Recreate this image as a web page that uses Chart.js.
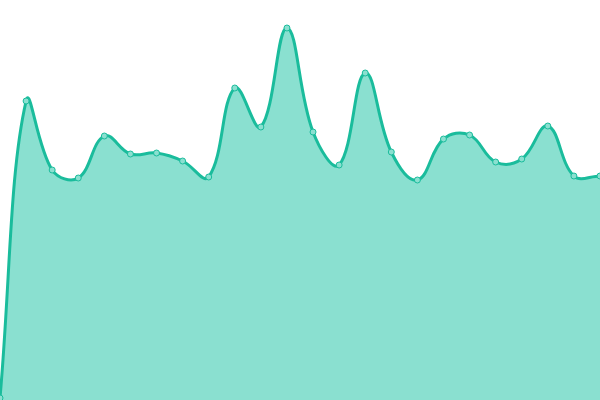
<!DOCTYPE html>
<html>
<head>
<meta charset="utf-8">
<script src="https://cdn.jsdelivr.net/npm/chart.js@4"></script>
<style>
  html, body { margin: 0; padding: 0; background: #fff; }
  #wrap { width: 600px; height: 400px; }
</style>
</head>
<body>
<div id="wrap"><canvas id="chart"></canvas></div>
<script>
// data (higher = taller)
const labels = ['1', '2', '3', '4', '5', '6', '7', '8', '9', '10', '11', '12',
                '13', '14', '15', '16', '17', '18', '19', '20', '21', '22', '23', '24'];
const values = [2, 299, 230, 222, 264, 246, 247, 239, 223, 312, 273, 372,
                268, 235, 327, 248, 220, 261, 265, 238, 241, 274, 224, 224];

const ctx = document.getElementById('chart').getContext('2d');
const chart = new Chart(ctx, {
    type: 'line',
    data: {
        labels: labels,
        datasets: [{
            data: values,
            fill: 'origin',
            backgroundColor: '#8ae0d0',
            borderColor: '#1abc9c',
            borderWidth: 3,
            tension: 0.4,
            pointRadius: 3,
            pointBorderWidth: 1,
            pointBackgroundColor: '#8ae0d0',
            pointBorderColor: '#1abc9c'
        }]
    },
    options: {
        responsive: true,
        maintainAspectRatio: false,
        animation: false,
        layout: { padding: 0, autoPadding: false },
        plugins: {
            legend: { display: false },
            tooltip: { enabled: false }
        },
        scales: {
            x: { display: false, offset: false },
            y: { display: false, min: 0, max: 400 }
        }
    }
});
</script>
</body>
</html>
